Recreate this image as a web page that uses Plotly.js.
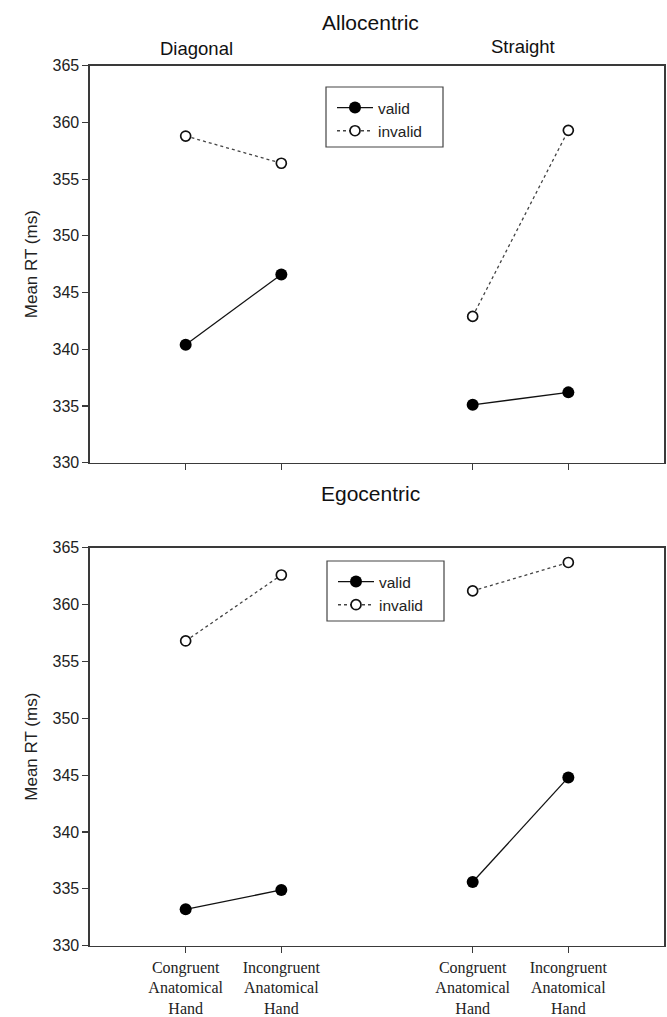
<!DOCTYPE html>
<html>
<head>
<meta charset="utf-8">
<script src="https://cdn.plot.ly/plotly-3.0.1.min.js"></script>
<style>html,body{margin:0;padding:0;background:#fff;}#chart{width:667px;height:1017px;}</style>
</head>
<body>
<div id="chart"></div>
<script>
// ---- data ----
var conditions = ["Congruent Diagonal", "Incongruent Diagonal", "Congruent Straight", "Incongruent Straight"];
var tickLabels = ["Congruent<br>Anatomical<br>Hand", "Incongruent<br>Anatomical<br>Hand", "Congruent<br>Anatomical<br>Hand", "Incongruent<br>Anatomical<br>Hand"];
var seriesNames = ["valid", "invalid"];
var alloValid   = [340.4, 346.6, 335.1, 336.2];
var alloInvalid = [358.8, 356.4, 342.9, 359.3];
var egoValid    = [333.2, 334.9, 335.6, 344.8];
var egoInvalid  = [356.8, 362.6, 361.2, 363.7];

// ---- layout helpers ----
var W = 667, H = 1017, L = 90, R = 3;
var xPos = [1, 2, 4, 5]; // two groups with a gap between them
function px2x(p) { return (p - L) / (W - L - R); }
function px2y(p) { return 1 - p / H; }
function gapped(arr) { // insert a gap so Diagonal and Straight are not joined
  return {x: [xPos[0], xPos[1], 3, xPos[2], xPos[3]], y: [arr[0], arr[1], null, arr[2], arr[3]]};
}
var axColor = '#3a3a3a';
function mk(arr, name, xa, ya, legend, open) {
  var g = gapped(arr);
  return {
    x: g.x, y: g.y, xaxis: xa, yaxis: ya, name: name, legend: legend,
    type: 'scatter', mode: 'lines+markers', connectgaps: false,
    line: open ? {color: '#444', width: 1.3, dash: 'dot'} : {color: '#111', width: 1.3},
    marker: open ? {symbol: 'circle', size: 10, color: '#fff', line: {color: '#111', width: 1.7}}
                 : {symbol: 'circle', size: 12, color: '#000', line: {color: '#000', width: 0}},
    hoverinfo: 'x+y'
  };
}
var data = [
  mk(alloValid, seriesNames[0], 'x', 'y', 'legend', false),
  mk(alloInvalid, seriesNames[1], 'x', 'y', 'legend', true),
  mk(egoValid, seriesNames[0], 'x2', 'y2', 'legend2', false),
  mk(egoInvalid, seriesNames[1], 'x2', 'y2', 'legend2', true)
];

var sans = 'Liberation Sans, Arial, sans-serif';
var tickFont = {family: sans, size: 16, color: '#222'};
function yax(domain, anchor) {
  return {
    domain: domain, anchor: anchor, range: [330, 365], dtick: 5, tick0: 330,
    showgrid: false, zeroline: false, showline: true, mirror: true,
    linecolor: axColor, linewidth: 1.6, ticks: 'outside', ticklen: 6, tickwidth: 1.2, tickcolor: axColor,
    tickfont: tickFont,
    title: {text: 'Mean RT (ms)', font: {family: sans, size: 17, color: '#222'}, standoff: 10}
  };
}
function xax(anchor, showLabels) {
  return {
    anchor: anchor, range: [0, 6], tickmode: 'array', tickvals: xPos, ticktext: tickLabels,
    showticklabels: showLabels, showgrid: false, zeroline: false, showline: true, mirror: true,
    linecolor: axColor, linewidth: 1.6, ticks: 'outside', ticklen: 6, tickwidth: 1.2, tickcolor: axColor,
    tickfont: {family: 'Liberation Serif, Times New Roman, serif', size: 16, color: '#222'}
  };
}
var legFont = {family: sans, size: 15.5, color: '#222'};
function legendBox(x0, x1, y0, y1) {
  return {type: 'rect', xref: 'paper', yref: 'paper', x0: px2x(x0), x1: px2x(x1), y0: px2y(y0), y1: px2y(y1),
          line: {color: '#444', width: 1.2}, fillcolor: 'rgba(255,255,255,0)', layer: 'above'};
}
var layout = {
  width: W, height: H, showlegend: true,
  margin: {l: L, r: R, t: 0, b: 0},
  paper_bgcolor: '#fff', plot_bgcolor: '#fff',
  xaxis: xax('y', false), yaxis: yax([px2y(462.7), px2y(65.7)], 'x'),
  xaxis2: xax('y2', true), yaxis2: yax([px2y(945.7), px2y(547.7)], 'x2'),
  legend: {x: px2x(332), y: px2y(91), xanchor: 'left', yanchor: 'top', bgcolor: 'rgba(0,0,0,0)',
           borderwidth: 0, font: legFont, tracegroupgap: 0, itemwidth: 36},
  legend2: {x: px2x(333), y: px2y(565), xanchor: 'left', yanchor: 'top', bgcolor: 'rgba(0,0,0,0)',
            borderwidth: 0, font: legFont, tracegroupgap: 0, itemwidth: 36},
  shapes: [legendBox(326, 443, 87, 147), legendBox(327, 444, 561, 621)],
  annotations: [
    {text: 'Allocentric', xref: 'paper', yref: 'paper', x: px2x(370), y: px2y(22), showarrow: false,
     xanchor: 'center', yanchor: 'middle', font: {family: sans, size: 21, color: '#111'}},
    {text: 'Diagonal', xref: 'paper', yref: 'paper', x: px2x(196), y: px2y(48), showarrow: false,
     xanchor: 'center', yanchor: 'middle', font: {family: sans, size: 18.5, color: '#111'}},
    {text: 'Straight', xref: 'paper', yref: 'paper', x: px2x(523), y: px2y(46), showarrow: false,
     xanchor: 'center', yanchor: 'middle', font: {family: sans, size: 18.5, color: '#111'}},
    {text: 'Egocentric', xref: 'paper', yref: 'paper', x: px2x(370), y: px2y(493), showarrow: false,
     xanchor: 'center', yanchor: 'middle', font: {family: sans, size: 21, color: '#111'}}
  ]
};
Plotly.newPlot('chart', data, layout, {displayModeBar: false, staticPlot: true});
</script>
</body>
</html>
